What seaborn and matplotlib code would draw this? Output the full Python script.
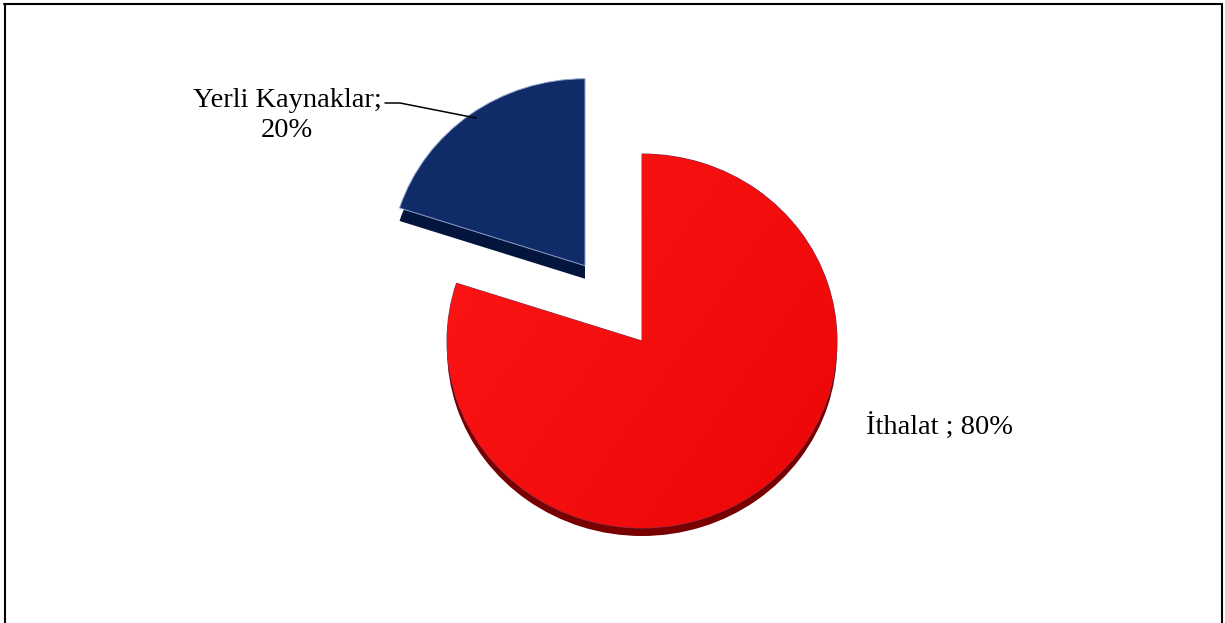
import numpy as np
import matplotlib
matplotlib.use("Agg")
import matplotlib.pyplot as plt
from matplotlib.lines import Line2D
from matplotlib.colors import to_rgb
import seaborn as sns

# Energy supply shares
sources = ["Yerli Kaynaklar", "İthalat"]
shares = [20, 80]
label_texts = ["Yerli Kaynaklar;\n20%", "İthalat ; 80%"]

face_colors = ["#0f2c69", "#f20a0a"]
side_colors = ["#03143d", "#780000"]
edge_colors = ["#8fa2cc", "#6a3a60"]

sns.set_theme(style="white")
plt.rcParams["font.family"] = ["Liberation Serif", "DejaVu Serif"]

W, H = 1225, 623
fig = plt.figure(figsize=(W / 100, H / 100), dpi=100)
ax = fig.add_axes([0, 0, 1, 1])

# slightly flattened pie: x unit = 1 px, y unit stretched so the disc looks tilted
rx, ry = 195, 187
s = rx / ry
cx, cy_px = 642, 341
explode = [97, 0]
depths = [13, 8]   # thickness of the side wall under each slice


def to_data(py):
    return (H - py) * s


# side walls (darker copies shifted down), one pass per slice thickness
for k, d in enumerate(depths):
    walls, _ = ax.pie(shares, colors=side_colors, startangle=90, counterclock=True,
                      radius=rx, center=(cx, to_data(cy_px + d)),
                      explode=explode, wedgeprops=dict(linewidth=0), frame=True)
    for j, w in enumerate(walls):
        w.set_visible(j == k)

# top faces
top_wedges, _ = ax.pie(shares, colors=face_colors, startangle=90, counterclock=True,
                       radius=rx, center=(cx, to_data(cy_px)),
                       explode=explode, wedgeprops=dict(linewidth=0.7), frame=True)
for w, ec in zip(top_wedges, edge_colors):
    w.set_edgecolor(ec)
    w.set_zorder(3)

# soft light-to-dark shading across the red face
c0 = np.array(to_rgb("#fc1616"))
c1 = np.array(to_rgb("#ec0606"))
gx, gy = np.meshgrid(np.linspace(0, 1, 200), np.linspace(1, 0, 200))
t = np.clip(0.6 * gx + 0.4 * (1 - gy), 0, 1)[..., None]
grad = c0 * (1 - t) + c1 * t
yc = to_data(cy_px)
img = ax.imshow(grad, extent=(cx - rx, cx + rx, yc - rx, yc + rx), origin="upper",
                zorder=3.5, interpolation="bilinear")
img.set_clip_path(top_wedges[1])

ax.set_xlim(0, W)
ax.set_ylim(0, H * s)
ax.set_aspect("auto")
ax.axis("off")

# labels
fig.text(287 / W, 1 - 137 / H, label_texts[0], ha="center", va="baseline",
         fontsize=20.5, color="black", linespacing=1.27, multialignment="center")
fig.text(866 / W, 1 - 435 / H, label_texts[1], ha="left", va="baseline",
         fontsize=20.5, color="black")

# leader line to the exploded slice
lx = np.array([385, 400, 476]) / W
ly = 1 - np.array([103, 103, 118]) / H
fig.add_artist(Line2D(lx, ly, color="black", lw=1.1))

# chart frame
fw = 1.5
fig.add_artist(Line2D([5 / W, 5 / W], [0, 1 - 4 / H], color="black", lw=fw))
fig.add_artist(Line2D([4 / W, 1222 / W], [1 - 4 / H, 1 - 4 / H], color="black", lw=fw))
fig.add_artist(Line2D([1222 / W, 1222 / W], [0, 1 - 4 / H], color="black", lw=fw))

fig.savefig("out.png", dpi=100, facecolor="white")
